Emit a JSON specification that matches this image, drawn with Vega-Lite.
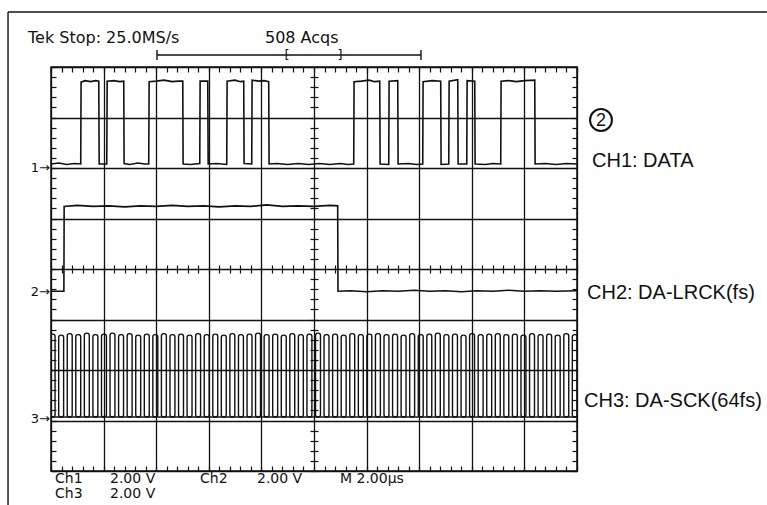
{
  "$schema": "https://vega.github.io/schema/vega-lite/v6.json",
  "width": 526,
  "height": 404,
  "autosize": "none",
  "padding": {"left": 51, "top": 67, "right": 190, "bottom": 34},
  "background": "white",
  "config": {"view": {"stroke": "#111", "strokeWidth": 1.5}},
  "resolve": {"axis": {"x": "independent", "y": "independent"}},
  "layer": [
    {
      "data": {"values": [
        {"x": -0.817, "x2": 13.61, "y": 5.089, "y2": 5.089},
        {"x": -0.817, "x2": -0.817, "y": 5.089, "y2": -4.7},
        {"x": 2.015, "x2": 7.034, "y": 4.238, "y2": 4.238},
        {"x": 2.015, "x2": 2.015, "y": 4.337, "y2": 4.139},
        {"x": 7.034, "x2": 7.034, "y": 4.337, "y2": 4.139}
      ]},
      "mark": {"type": "rule", "color": "#111", "strokeWidth": 1.4},
      "encoding": {
        "x": {"field": "x", "type": "quantitative", "scale": {"domain": [0, 10], "nice": false, "zero": false}, "axis": null},
        "x2": {"field": "x2"},
        "y": {"field": "y", "type": "quantitative", "scale": {"domain": [-4, 4], "nice": false, "zero": false}, "axis": null},
        "y2": {"field": "y2"}
      }
    },
    {
      "data": {"values": [
        {"t":0,"v":2.08},{"t":0.15,"v":2.10},{"t":0.3,"v":2.07},{"t":0.45,"v":2.09},{"t":0.565,"v":2.08},{"t":0.572,"v":3.70},{"t":0.65,"v":3.73},{"t":0.75,"v":3.71},{"t":0.85,"v":3.73},{"t":0.908,"v":3.72},{"t":0.916,"v":2.08},{"t":1.06,"v":2.08},{"t":1.068,"v":3.72},{"t":1.2,"v":3.73},{"t":1.3,"v":3.71},{"t":1.383,"v":3.72},{"t":1.39,"v":2.09},{"t":1.5,"v":2.07},{"t":1.65,"v":2.10},{"t":1.78,"v":2.08},{"t":1.858,"v":2.08},{"t":1.866,"v":3.71},{"t":2.0,"v":3.72},{"t":2.15,"v":3.74},{"t":2.3,"v":3.71},{"t":2.43,"v":3.72},{"t":2.505,"v":3.72},{"t":2.512,"v":2.08},{"t":2.65,"v":2.07},{"t":2.828,"v":2.09},{"t":2.835,"v":3.72},{"t":2.98,"v":3.72},{"t":2.988,"v":2.08},{"t":3.15,"v":2.09},{"t":3.341,"v":2.07},{"t":3.348,"v":3.72},{"t":3.5,"v":3.74},{"t":3.6,"v":3.71},{"t":3.664,"v":3.72},{"t":3.671,"v":2.09},{"t":3.816,"v":2.08},{"t":3.823,"v":3.74},{"t":3.95,"v":3.72},{"t":4.05,"v":3.73},{"t":4.139,"v":3.71},{"t":4.146,"v":2.08},{"t":4.3,"v":2.09},{"t":4.5,"v":2.07},{"t":4.7,"v":2.09},{"t":4.9,"v":2.07},{"t":5.1,"v":2.09},{"t":5.3,"v":2.07},{"t":5.5,"v":2.09},{"t":5.65,"v":2.07},{"t":5.755,"v":2.08},{"t":5.762,"v":3.71},{"t":5.9,"v":3.72},{"t":6.05,"v":3.74},{"t":6.15,"v":3.71},{"t":6.25,"v":3.72},{"t":6.257,"v":2.08},{"t":6.421,"v":2.07},{"t":6.428,"v":3.72},{"t":6.592,"v":3.73},{"t":6.599,"v":2.08},{"t":6.8,"v":2.09},{"t":6.95,"v":2.07},{"t":7.067,"v":2.08},{"t":7.074,"v":3.71},{"t":7.25,"v":3.73},{"t":7.409,"v":3.72},{"t":7.416,"v":2.07},{"t":7.562,"v":2.08},{"t":7.569,"v":3.72},{"t":7.733,"v":3.75},{"t":7.74,"v":2.08},{"t":7.904,"v":2.08},{"t":7.911,"v":3.73},{"t":8.056,"v":3.72},{"t":8.063,"v":2.08},{"t":8.25,"v":2.07},{"t":8.4,"v":2.09},{"t":8.55,"v":2.08},{"t":8.557,"v":3.72},{"t":8.7,"v":3.73},{"t":8.85,"v":3.71},{"t":9.0,"v":3.73},{"t":9.197,"v":3.74},{"t":9.204,"v":2.08},{"t":9.4,"v":2.09},{"t":9.6,"v":2.07},{"t":9.8,"v":2.09},{"t":10,"v":2.08}
      ]},
      "mark": {"type": "line", "color": "#111", "strokeWidth": 1.6, "clip": true},
      "encoding": {
        "x": {"field": "t", "type": "quantitative", "scale": {"domain": [0, 10], "nice": false, "zero": false},
          "axis": {"orient": "bottom", "values": [0,1,2,3,4,5,6,7,8,9,10], "grid": true, "gridColor": "#111", "gridWidth": 1.3, "gridOpacity": 1, "ticks": false, "labels": false, "domain": false, "title": null}},
        "y": {"field": "v", "type": "quantitative", "scale": {"domain": [-4, 4], "nice": false, "zero": false},
          "axis": {"orient": "left", "values": [-4,-3,-2,-1,0,1,2,3,4], "grid": true, "gridColor": "#111", "gridWidth": 1.3, "gridOpacity": 1, "ticks": false, "labels": false, "domain": false, "title": null}}
      }
    },
    {
      "data": {"values": [
        {"t":0,"v":-0.44},{"t":0.245,"v":-0.44},{"t":0.25,"v":1.24},{"t":0.5,"v":1.26},{"t":0.8,"v":1.24},{"t":1.1,"v":1.25},{"t":1.4,"v":1.23},{"t":1.7,"v":1.25},{"t":2.0,"v":1.24},{"t":2.3,"v":1.26},{"t":2.6,"v":1.24},{"t":2.9,"v":1.25},{"t":3.2,"v":1.23},{"t":3.5,"v":1.25},{"t":3.8,"v":1.24},{"t":4.1,"v":1.27},{"t":4.4,"v":1.24},{"t":4.7,"v":1.25},{"t":5.0,"v":1.24},{"t":5.3,"v":1.26},{"t":5.45,"v":1.25},{"t":5.456,"v":-0.44},{"t":5.7,"v":-0.43},{"t":6.0,"v":-0.45},{"t":6.3,"v":-0.43},{"t":6.6,"v":-0.44},{"t":6.9,"v":-0.42},{"t":7.2,"v":-0.44},{"t":7.5,"v":-0.43},{"t":7.8,"v":-0.45},{"t":8.1,"v":-0.43},{"t":8.4,"v":-0.44},{"t":8.7,"v":-0.42},{"t":9.0,"v":-0.44},{"t":9.3,"v":-0.43},{"t":9.6,"v":-0.44},{"t":10,"v":-0.43}
      ]},
      "mark": {"type": "line", "color": "#111", "strokeWidth": 1.6, "clip": true},
      "encoding": {
        "x": {"field": "t", "type": "quantitative", "scale": {"domain": [0, 10], "nice": false, "zero": false},
          "axis": {"orient": "bottom", "values": [0,0.2,0.4,0.6,0.8,1,1.2,1.4,1.6,1.8,2,2.2,2.4,2.6,2.8,3,3.2,3.4,3.6,3.8,4,4.2,4.4,4.6,4.8,5,5.2,5.4,5.6,5.8,6,6.2,6.4,6.6,6.8,7,7.2,7.4,7.6,7.8,8,8.2,8.4,8.6,8.8,9,9.2,9.4,9.6,9.8,10], "tickSize": -5, "tickColor": "#111", "tickWidth": 1.2, "labels": false, "domain": false, "grid": false, "title": null}},
        "y": {"field": "v", "type": "quantitative", "scale": {"domain": [-4, 4], "nice": false, "zero": false},
          "axis": {"orient": "left", "values": [-4,-3.8,-3.6,-3.4,-3.2,-3,-2.8,-2.6,-2.4,-2.2,-2,-1.8,-1.6,-1.4,-1.2,-1,-0.8,-0.6,-0.4,-0.2,0,0.2,0.4,0.6,0.8,1,1.2,1.4,1.6,1.8,2,2.2,2.4,2.6,2.8,3,3.2,3.4,3.6,3.8,4], "tickSize": -5, "tickColor": "#111", "tickWidth": 1.2, "labels": false, "domain": false, "grid": false, "title": null}}
      }
    },
    {
      "data": {"values": [
        {"s":-0.017,"e":0.077,"hi":-1.29},{"s":0.146,"e":0.240,"hi":-1.31},{"s":0.309,"e":0.403,"hi":-1.28},{"s":0.471,"e":0.565,"hi":-1.30},{"s":0.634,"e":0.728,"hi":-1.27},{"s":0.797,"e":0.891,"hi":-1.30},{"s":0.960,"e":1.054,"hi":-1.29},{"s":1.122,"e":1.216,"hi":-1.27},{"s":1.285,"e":1.379,"hi":-1.30},{"s":1.448,"e":1.542,"hi":-1.28},{"s":1.611,"e":1.705,"hi":-1.31},{"s":1.774,"e":1.868,"hi":-1.29},{"s":1.936,"e":2.030,"hi":-1.30},{"s":2.099,"e":2.193,"hi":-1.28},{"s":2.262,"e":2.356,"hi":-1.30},{"s":2.425,"e":2.519,"hi":-1.29},{"s":2.587,"e":2.681,"hi":-1.31},{"s":2.750,"e":2.844,"hi":-1.28},{"s":2.913,"e":3.007,"hi":-1.30},{"s":3.076,"e":3.170,"hi":-1.29},{"s":3.238,"e":3.332,"hi":-1.31},{"s":3.401,"e":3.495,"hi":-1.28},{"s":3.564,"e":3.658,"hi":-1.30},{"s":3.727,"e":3.821,"hi":-1.29},{"s":3.889,"e":3.983,"hi":-1.27},{"s":4.052,"e":4.146,"hi":-1.30},{"s":4.215,"e":4.309,"hi":-1.29},{"s":4.378,"e":4.472,"hi":-1.31},{"s":4.540,"e":4.634,"hi":-1.28},{"s":4.703,"e":4.797,"hi":-1.30},{"s":4.866,"e":4.960,"hi":-1.29},{"s":5.029,"e":5.123,"hi":-1.27},{"s":5.191,"e":5.285,"hi":-1.30},{"s":5.354,"e":5.448,"hi":-1.29},{"s":5.517,"e":5.611,"hi":-1.31},{"s":5.680,"e":5.774,"hi":-1.28},{"s":5.843,"e":5.937,"hi":-1.30},{"s":6.005,"e":6.099,"hi":-1.29},{"s":6.168,"e":6.262,"hi":-1.28},{"s":6.331,"e":6.425,"hi":-1.30},{"s":6.494,"e":6.588,"hi":-1.29},{"s":6.656,"e":6.750,"hi":-1.31},{"s":6.819,"e":6.913,"hi":-1.28},{"s":6.982,"e":7.076,"hi":-1.30},{"s":7.145,"e":7.239,"hi":-1.29},{"s":7.307,"e":7.401,"hi":-1.27},{"s":7.470,"e":7.564,"hi":-1.30},{"s":7.633,"e":7.727,"hi":-1.29},{"s":7.796,"e":7.890,"hi":-1.31},{"s":7.958,"e":8.052,"hi":-1.28},{"s":8.121,"e":8.215,"hi":-1.30},{"s":8.284,"e":8.378,"hi":-1.29},{"s":8.447,"e":8.541,"hi":-1.28},{"s":8.609,"e":8.703,"hi":-1.30},{"s":8.772,"e":8.866,"hi":-1.29},{"s":8.935,"e":9.029,"hi":-1.31},{"s":9.098,"e":9.192,"hi":-1.28},{"s":9.260,"e":9.354,"hi":-1.30},{"s":9.423,"e":9.517,"hi":-1.29},{"s":9.586,"e":9.680,"hi":-1.31},{"s":9.749,"e":9.843,"hi":-1.28},{"s":9.911,"e":10.005,"hi":-1.30}
      ]},
      "mark": {"type": "rect", "fill": null, "fillOpacity": 0, "stroke": "#111", "strokeWidth": 1.4, "cornerRadius": 2.2, "clip": true},
      "encoding": {
        "x": {"field": "s", "type": "quantitative", "scale": {"domain": [0, 10], "nice": false, "zero": false},
          "axis": {"orient": "top", "values": [0,0.2,0.4,0.6,0.8,1,1.2,1.4,1.6,1.8,2,2.2,2.4,2.6,2.8,3,3.2,3.4,3.6,3.8,4,4.2,4.4,4.6,4.8,5,5.2,5.4,5.6,5.8,6,6.2,6.4,6.6,6.8,7,7.2,7.4,7.6,7.8,8,8.2,8.4,8.6,8.8,9,9.2,9.4,9.6,9.8,10], "tickSize": -5, "tickColor": "#111", "tickWidth": 1.2, "labels": false, "domain": false, "grid": false, "title": null}},
        "x2": {"field": "e"},
        "y": {"field": "hi", "type": "quantitative", "scale": {"domain": [-4, 4], "nice": false, "zero": false},
          "axis": {"orient": "right", "values": [-4,-3.8,-3.6,-3.4,-3.2,-3,-2.8,-2.6,-2.4,-2.2,-2,-1.8,-1.6,-1.4,-1.2,-1,-0.8,-0.6,-0.4,-0.2,0,0.2,0.4,0.6,0.8,1,1.2,1.4,1.6,1.8,2,2.2,2.4,2.6,2.8,3,3.2,3.4,3.6,3.8,4], "tickSize": -5, "tickColor": "#111", "tickWidth": 1.2, "labels": false, "domain": false, "grid": false, "title": null}},
        "y2": {"datum": -2.93}
      }
    },
    {
      "data": {"values": [{"t": 0, "v": -2.93}, {"t": 10, "v": -2.93}]},
      "mark": {"type": "line", "color": "#111", "strokeWidth": 1.4, "clip": true},
      "encoding": {
        "x": {"field": "t", "type": "quantitative", "scale": {"domain": [0, 10], "nice": false, "zero": false},
          "axis": {"orient": "bottom", "offset": -202, "values": [0,0.2,0.4,0.6,0.8,1,1.2,1.4,1.6,1.8,2,2.2,2.4,2.6,2.8,3,3.2,3.4,3.6,3.8,4,4.2,4.4,4.6,4.8,5,5.2,5.4,5.6,5.8,6,6.2,6.4,6.6,6.8,7,7.2,7.4,7.6,7.8,8,8.2,8.4,8.6,8.8,9,9.2,9.4,9.6,9.8,10], "tickSize": 4, "tickColor": "#111", "tickWidth": 1.2, "labels": false, "domain": false, "grid": false, "title": null}},
        "y": {"field": "v", "type": "quantitative", "scale": {"domain": [-4, 4], "nice": false, "zero": false},
          "axis": {"orient": "left", "offset": -263, "values": [-4,-3.8,-3.6,-3.4,-3.2,-3,-2.8,-2.6,-2.4,-2.2,-2,-1.8,-1.6,-1.4,-1.2,-1,-0.8,-0.6,-0.4,-0.2,0,0.2,0.4,0.6,0.8,1,1.2,1.4,1.6,1.8,2,2.2,2.4,2.6,2.8,3,3.2,3.4,3.6,3.8,4], "tickSize": 4, "tickColor": "#111", "tickWidth": 1.2, "labels": false, "domain": false, "grid": false, "title": null}}
      }
    },
    {
      "data": {"values": [
        {"label": "Tek Stop: 25.0MS/s", "x": -0.437, "y": 4.475},
        {"label": "508 Acqs", "x": 4.068, "y": 4.475}
      ]},
      "mark": {"type": "text", "font": "DejaVu Sans", "fontSize": 16, "align": "left", "baseline": "alphabetic", "color": "#111"},
      "encoding": {
        "x": {"field": "x", "type": "quantitative", "scale": {"domain": [0, 10], "nice": false, "zero": false},
          "axis": {"orient": "top", "offset": -202, "values": [0,0.2,0.4,0.6,0.8,1,1.2,1.4,1.6,1.8,2,2.2,2.4,2.6,2.8,3,3.2,3.4,3.6,3.8,4,4.2,4.4,4.6,4.8,5,5.2,5.4,5.6,5.8,6,6.2,6.4,6.6,6.8,7,7.2,7.4,7.6,7.8,8,8.2,8.4,8.6,8.8,9,9.2,9.4,9.6,9.8,10], "tickSize": 4, "tickColor": "#111", "tickWidth": 1.2, "labels": false, "domain": false, "grid": false, "title": null}},
        "y": {"field": "y", "type": "quantitative", "scale": {"domain": [-4, 4], "nice": false, "zero": false},
          "axis": {"orient": "right", "offset": -263, "values": [-4,-3.8,-3.6,-3.4,-3.2,-3,-2.8,-2.6,-2.4,-2.2,-2,-1.8,-1.6,-1.4,-1.2,-1,-0.8,-0.6,-0.4,-0.2,0,0.2,0.4,0.6,0.8,1,1.2,1.4,1.6,1.8,2,2.2,2.4,2.6,2.8,3,3.2,3.4,3.6,3.8,4], "tickSize": 4, "tickColor": "#111", "tickWidth": 1.2, "labels": false, "domain": false, "grid": false, "title": null}},
        "text": {"field": "label"}
      }
    },
    {
      "data": {"values": [
        {"label": "Ch1", "x": 0.076, "y": -4.228},
        {"label": "2.00 V", "x": 1.122, "y": -4.228},
        {"label": "Ch2", "x": 2.833, "y": -4.228},
        {"label": "2.00 V", "x": 3.916, "y": -4.228},
        {"label": "M 2.00µs", "x": 5.494, "y": -4.228},
        {"label": "Ch3", "x": 0.076, "y": -4.525},
        {"label": "2.00 V", "x": 1.122, "y": -4.525}
      ]},
      "mark": {"type": "text", "font": "DejaVu Sans", "fontSize": 14, "align": "left", "baseline": "alphabetic", "color": "#111"},
      "encoding": {
        "x": {"field": "x", "type": "quantitative", "axis": null},
        "y": {"field": "y", "type": "quantitative", "axis": null},
        "text": {"field": "label"}
      }
    },
    {
      "data": {"values": [
        {"label": "[", "x": 4.487, "y": 4.238},
        {"label": "]", "x": 5.494, "y": 4.238}
      ]},
      "mark": {"type": "text", "font": "DejaVu Sans", "fontSize": 13, "align": "center", "baseline": "middle", "color": "#111"},
      "encoding": {
        "x": {"field": "x", "type": "quantitative", "axis": null},
        "y": {"field": "y", "type": "quantitative", "axis": null},
        "text": {"field": "label"}
      }
    },
    {
      "data": {"values": [
        {"label": "1→", "x": -0.02, "y": 2.0},
        {"label": "2→", "x": -0.02, "y": -0.455},
        {"label": "3→", "x": -0.02, "y": -2.97}
      ]},
      "mark": {"type": "text", "font": "DejaVu Sans", "fontSize": 13, "align": "right", "baseline": "middle", "color": "#111"},
      "encoding": {
        "x": {"field": "x", "type": "quantitative", "axis": null},
        "y": {"field": "y", "type": "quantitative", "axis": null},
        "text": {"field": "label"}
      }
    },
    {
      "data": {"values": [
        {"label": "CH1: DATA", "x": 10.285, "y": 2.02},
        {"label": "CH2: DA-LRCK(fs)", "x": 10.19, "y": -0.594},
        {"label": "CH3: DA-SCK(64fs)", "x": 10.133, "y": -2.733}
      ]},
      "mark": {"type": "text", "font": "Liberation Sans", "fontSize": 20, "align": "left", "baseline": "alphabetic", "color": "#111"},
      "encoding": {
        "x": {"field": "x", "type": "quantitative", "axis": null},
        "y": {"field": "y", "type": "quantitative", "axis": null},
        "text": {"field": "label"}
      }
    },
    {
      "data": {"values": [{"label": "2", "x": 10.456, "y": 2.95}]},
      "layer": [
        {
          "mark": {"type": "point", "shape": "circle", "size": 480, "filled": false, "stroke": "#111", "strokeWidth": 2, "opacity": 1},
          "encoding": {
            "x": {"field": "x", "type": "quantitative", "axis": null},
            "y": {"field": "y", "type": "quantitative", "axis": null}
          }
        },
        {
          "mark": {"type": "text", "font": "Liberation Sans", "fontSize": 18, "align": "center", "baseline": "middle", "dy": 1, "color": "#111"},
          "encoding": {
            "x": {"field": "x", "type": "quantitative", "axis": null},
            "y": {"field": "y", "type": "quantitative", "axis": null},
            "text": {"field": "label"}
          }
        }
      ]
    }
  ]
}
